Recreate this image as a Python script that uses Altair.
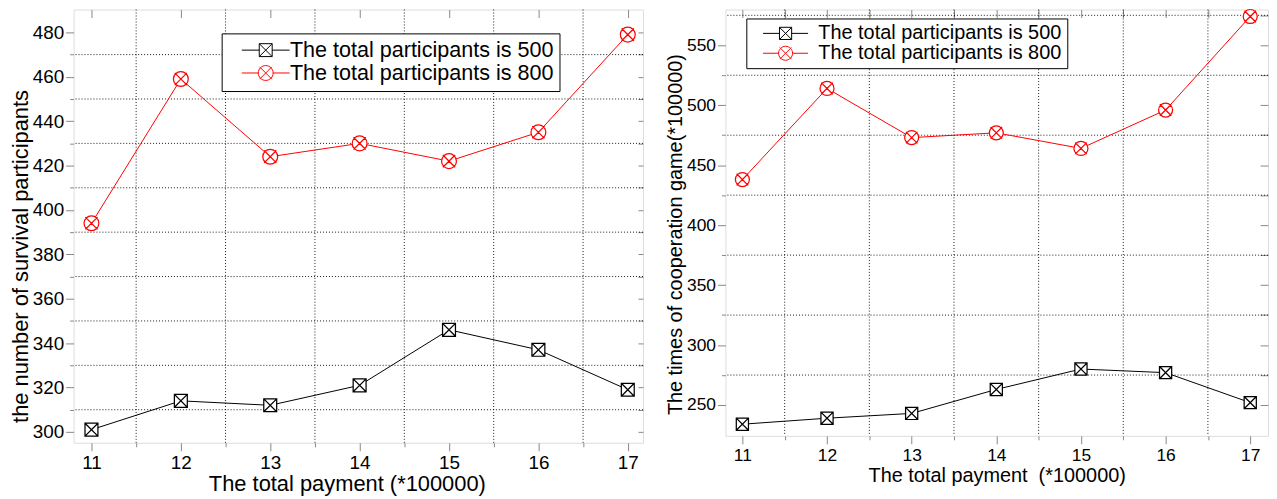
import altair as alt
import pandas as pd

# ---------------- data ----------------
x_vals = [11, 12, 13, 14, 15, 16, 17]
series = ["The total participants is 500", "The total participants is 800"]
colors = ["#000000", "#ff0000"]

left_500 = [301, 314, 312, 321, 346, 337, 319]
left_800 = [394, 459, 424, 430, 422, 435, 479]
right_500 = [234, 239, 243, 263, 280, 277, 252]
right_800 = [438, 514, 473, 477, 464, 496, 574]

left_x_title = "The total payment (*100000)"
left_y_title = "the number of survival participants"
right_x_title = "The total payment \u00a0(*100000)"
right_y_title = "The times of cooperation game(*100000)"

x_ticks = [11, 11.5, 12, 12.5, 13, 13.5, 14, 14.5, 15, 15.5, 16, 16.5, 17]
x_major = [11, 12, 13, 14, 15, 16, 17]
x_grid = [11.5, 12.5, 13.5, 14.5, 15.5, 16.5]

left_y_ticks = list(range(300, 481, 10))
left_y_grid = [310, 330, 350, 370, 390, 410, 430, 450, 470]
right_y_ticks = list(range(250, 551, 25))
right_y_right_ticks = list(range(250, 576, 25))
right_y_grid = [275, 325, 375, 425, 475, 525, 575]

FONT = "Liberation Sans"

# marker shapes (unit space [-1, 1])
SQ = "M-1,-1H1V1H-1Z M-1,-1L1,1 M-1,1L1,-1"
CI = ("M1.15,0A1.15,1.15,0,1,1,-1.15,0A1.15,1.15,0,1,1,1.15,0Z "
      "M-0.95,-0.95L0.95,0.95 M-0.95,0.95L0.95,-0.95")
SQ_LEG = "M-3.7,0H-1 M1,0H3.7 " + SQ
CI_LEG = "M-3.7,0H-1.15 M1.15,0H3.7 " + CI

GRID_STYLE = dict(color="#000000", strokeWidth=1, strokeDash=[1, 2], opacity=0.9)


def panel(s500, s800, cfg):
    df = pd.DataFrame({
        "x": x_vals + x_vals,
        "y": s500 + s800,
        "s": [series[0]] * len(x_vals) + [series[1]] * len(x_vals),
    })
    xs = alt.Scale(domain=cfg["xdom"], nice=False, zero=False)
    ys = alt.Scale(domain=cfg["ydom"], nice=False, zero=False)
    color = alt.Color("s:N", scale=alt.Scale(domain=series, range=colors), legend=None)
    lab = cfg["ylab"]
    fs = cfg["fs"]
    xmaj = "datum.value % 1 == 0"
    ymaj = f"datum.value % {lab} == 0"

    ax_bottom = alt.Axis(
        orient="bottom", values=x_ticks, domain=False, grid=False,
        labelExpr=f"{xmaj} ? format(datum.value, 'd') : ''",
        labelFontSize={"condition": {"test": xmaj, "value": fs}, "value": 0},
        tickSize={"condition": {"test": xmaj, "value": 8}, "value": 4},
        labelFlush=False, labelPadding=3,
        title=cfg["xtitle"], titleFontSize=cfg["tfs"], titlePadding=cfg["xtp"],
        titleFontWeight="normal", titleX=cfg["xtx"],
    )
    ax_left = alt.Axis(
        orient="left", values=cfg["yticks"], domain=False, grid=False,
        labelExpr=f"{ymaj} ? format(datum.value, 'd') : ''",
        labelFontSize={"condition": {"test": ymaj, "value": fs}, "value": 0},
        tickSize={"condition": {"test": ymaj, "value": 8}, "value": 4},
        labelFlush=False, labelPadding=2,
        title=cfg["ytitle"], titleFontSize=cfg["tfs"], titlePadding=cfg["ytp"],
        titleFontWeight="normal", titleY=cfg["yty"],
    )
    ax_top = alt.Axis(
        orient="top", values=cfg["topticks"], domain=False, labels=False, grid=False,
        tickSize=8, offset=-8, title=None,
    )
    ax_right = alt.Axis(
        orient="right", values=cfg["rticks"], domain=False, labels=False, grid=False,
        tickSize=cfg["rts"], offset=-cfg["rts"], title=None,
    )

    gx = alt.Chart(pd.DataFrame({"v": x_grid})).mark_rule(**GRID_STYLE).encode(
        x=alt.X("v:Q", scale=xs, axis=None)
    )
    gy = alt.Chart(pd.DataFrame({"v": cfg["ygrid"]})).mark_rule(**GRID_STYLE).encode(
        y=alt.Y("v:Q", scale=ys, axis=None)
    )
    line = alt.Chart(df).mark_line(strokeWidth=1).encode(
        x=alt.X("x:Q", scale=xs, axis=ax_bottom),
        y=alt.Y("y:Q", scale=ys, axis=ax_left),
        color=color,
        detail="s:N",
    )
    pts = alt.Chart(df).mark_point(filled=False, fill="white", opacity=1, strokeWidth=1.25,
                                   size=cfg["msize"]).encode(
        x=alt.X("x:Q", scale=xs, axis=ax_top),
        y=alt.Y("y:Q", scale=ys, axis=ax_right),
        color=color,
        shape=alt.Shape("s:N", scale=alt.Scale(domain=series, range=[SQ, CI]), legend=None),
    )
    leg = alt.Legend(
        title=None, orient="none", legendX=cfg["lx"], legendY=cfg["ly"],
        symbolSize=cfg["msize"], symbolStrokeWidth=1, symbolOpacity=1,
        labelFont=FONT, labelFontSize=cfg["lfs"], labelColor="#000000", labelLimit=600,
        padding=cfg["lpad"], strokeColor="#000000", fillColor="#ffffff", rowPadding=0,
        symbolOffset=cfg["so"], labelOffset=cfg["lo"],
    )
    hidden = alt.Chart(df).mark_point(filled=False, opacity=0).encode(
        x=alt.X("x:Q", scale=xs, axis=None),
        y=alt.Y("y:Q", scale=ys, axis=None),
        shape=alt.Shape("s:N", scale=alt.Scale(domain=series, range=[SQ_LEG, CI_LEG]), legend=leg),
        stroke=alt.Stroke("s:N", scale=alt.Scale(domain=series, range=colors), legend=leg),
    )
    return alt.layer(gx, gy, line, pts, hidden).resolve_scale(
        shape="independent", stroke="independent"
    ).resolve_axis(x="independent", y="independent").properties(
        width=cfg["w"], height=cfg["h"]
    )


left = panel(left_500, left_800, dict(
    xdom=[10.8, 17.17], ydom=[295.1, 490.3], yticks=left_y_ticks, rticks=left_y_ticks,
    ygrid=left_y_grid, ylab=20,
    topticks=x_major, rts=5, fs=19, tfs=22, lfs=21.7, xtp=1, ytp=0, xtx=275, yty=248,
    xtitle=left_x_title, ytitle=left_y_title, msize=169, lx=149, ly=24, so=27.5, lo=13.5,
    lpad=6, w=573, h=436,
))
right = panel(right_500, right_800, dict(
    xdom=[10.8, 17.21], ydom=[224.3, 579.8], yticks=right_y_ticks, rticks=right_y_right_ticks,
    ygrid=right_y_grid, ylab=50,
    topticks=x_ticks, rts=8, fs=17.5, tfs=20, lfs=20, xtp=1, ytp=1, xtx=273, yty=226,
    xtitle=right_x_title, ytitle=right_y_title, msize=150, lx=21, ly=9, so=24.5, lo=23,
    lpad=5, w=546, h=429,
))

chart = alt.hconcat(left, right, spacing=21).properties(
    padding={"top": -4, "left": 0, "right": 0, "bottom": 0}
).configure_view(
    stroke="#000000", strokeWidth=2
).configure_axis(
    labelFont=FONT, titleFont=FONT, labelColor="#000000", titleColor="#000000",
    tickColor="#000000", tickWidth=1.2,
).configure(background="white")

chart.save("out.html", embed_options={"renderer": "svg", "actions": False})
